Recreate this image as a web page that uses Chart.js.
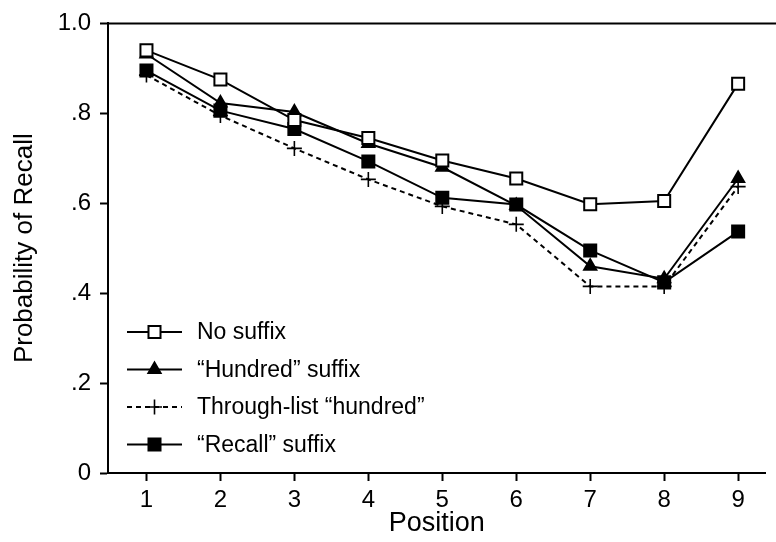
<!DOCTYPE html>
<html>
<head>
<meta charset="utf-8">
<script src="https://cdn.jsdelivr.net/npm/chart.js@4.4.1/dist/chart.umd.min.js"></script>
<style>
  body { margin: 0; background: #fff; }
  #wrap { width: 776px; height: 542px; }
</style>
</head>
<body>
<div id="wrap"><canvas id="recallChart"></canvas></div>
<script>
const positions = [1, 2, 3, 4, 5, 6, 7, 8, 9];
const yTickLabels = ["0", ".2", ".4", ".6", ".8", "1.0"];

const noSuffix = [0.940, 0.875, 0.785, 0.745, 0.695, 0.655, 0.598, 0.605, 0.866];
const hundredSuffix = [0.932, 0.823, 0.803, 0.733, 0.680, 0.595, 0.460, 0.432, 0.655];
const throughList = [0.885, 0.795, 0.722, 0.653, 0.593, 0.553, 0.415, 0.415, 0.637];
const recallSuffix = [0.895, 0.806, 0.765, 0.693, 0.612, 0.597, 0.495, 0.424, 0.537];

const FONT = "'Liberation Sans', Arial, Helvetica, sans-serif";

function toPoints(values) {
    return values.map((v, i) => ({ x: positions[i], y: v }));
}

function series(label, values, style, radius, fill, dash) {
    return {
        label: label,
        data: toPoints(values),
        borderColor: "#000",
        borderWidth: 2,
        borderDash: dash || [],
        pointStyle: style,
        pointRadius: radius,
        pointBorderWidth: style === "cross" ? 1.6 : 2,
        pointBorderColor: "#000",
        pointBackgroundColor: fill,
        tension: 0,
        clip: false
    };
}

// draws the legend inside the plot: short line with the marker in its middle
const insideLegend = {
    id: "insideLegend",
    afterDatasetsDraw(chart, args, opts) {
        const ctx = chart.ctx;
        const area = chart.chartArea;
        ctx.save();
        chart.data.datasets.forEach((ds, i) => {
            const y = opts.top + i * opts.spacing;
            const x0 = area.left + opts.lineStart;
            const x1 = x0 + opts.lineLength;
            ctx.strokeStyle = "#000";
            ctx.lineWidth = ds.borderWidth;
            ctx.setLineDash(ds.borderDash);
            ctx.beginPath();
            ctx.moveTo(x0, y);
            ctx.lineTo(x1, y);
            ctx.stroke();
            ctx.setLineDash([]);
            ctx.fillStyle = ds.pointBackgroundColor;
            ctx.lineWidth = ds.pointBorderWidth;
            Chart.helpers.drawPoint(ctx, {
                pointStyle: ds.pointStyle,
                radius: ds.pointRadius,
                rotation: 0,
                borderWidth: ds.pointBorderWidth
            }, (x0 + x1) / 2, y);
            ctx.fillStyle = "#000";
            ctx.font = opts.fontSize + "px " + FONT;
            ctx.textBaseline = "middle";
            ctx.textAlign = "left";
            ctx.fillText(ds.label, x1 + opts.textGap, y + 1);
        });
        ctx.restore();
    }
};

// top frame line
const topFrame = {
    id: "topFrame",
    afterDraw(chart) {
        const ctx = chart.ctx;
        const a = chart.chartArea;
        ctx.save();
        ctx.strokeStyle = "#000";
        ctx.lineWidth = 2;
        ctx.beginPath();
        ctx.moveTo(a.left, a.top);
        ctx.lineTo(chart.width, a.top);
        ctx.stroke();
        ctx.restore();
    }
};

new Chart(document.getElementById("recallChart"), {
    type: "line",
    data: {
        datasets: [
            series("No suffix", noSuffix, "rect", 8.5, "#fff"),
            series("\u201cHundred\u201d suffix", hundredSuffix, "triangle", 7, "#000"),
            series("Through-list \u201chundred\u201d", throughList, "cross", 7.5, "#000", [5, 4]),
            series("\u201cRecall\u201d suffix", recallSuffix, "rect", 8.5, "#000")
        ]
    },
    plugins: [insideLegend, topFrame],
    options: {
        responsive: true,
        maintainAspectRatio: false,
        animation: false,
        layout: { padding: { top: 23, right: 0, left: 0, bottom: 0 } },
        plugins: {
            legend: { display: false },
            tooltip: { enabled: false },
            insideLegend: { top: 332, spacing: 37.5, lineStart: 19, lineLength: 55, textGap: 15, fontSize: 23 }
        },
        scales: {
            x: {
                type: "linear",
                min: 0.48,
                max: 9.37,
                afterBuildTicks: s => { s.ticks = positions.map(p => ({ value: p })); },
                afterFit: s => { s.height = 69; },
                ticks: { color: "#000", font: { family: FONT, size: 24 }, padding: 5, callback: v => String(v) },
                grid: { drawOnChartArea: false, drawTicks: true, tickLength: 8, tickWidth: 2, tickColor: "#000" },
                border: { display: true, color: "#000", width: 2 },
                title: { display: true, text: "Position", color: "#000", font: { family: FONT, size: 27 }, padding: { top: 0, bottom: 2 } }
            },
            y: {
                min: 0,
                max: 1,
                afterBuildTicks: s => { s.ticks = yTickLabels.map((t, i) => ({ value: i * 0.2 })); },
                afterFit: s => { s.width = 108; },
                ticks: { color: "#000", font: { family: FONT, size: 24 }, padding: 9, callback: (v, i) => yTickLabels[i] },
                grid: { drawOnChartArea: false, drawTicks: true, tickLength: 8, tickWidth: 2, tickColor: "#000" },
                border: { display: true, color: "#000", width: 2 },
                title: { display: true, text: "Probability of Recall", color: "#000", font: { family: FONT, size: 26 }, padding: { top: 9, bottom: 0 } }
            }
        }
    }
});
</script>
</body>
</html>
